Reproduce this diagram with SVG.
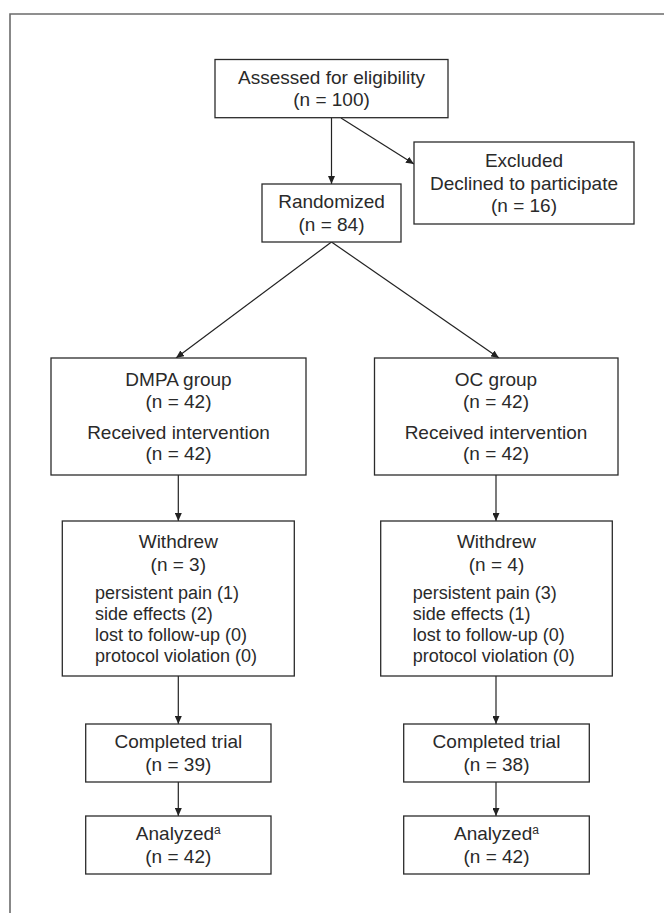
<svg xmlns="http://www.w3.org/2000/svg" width="664" height="913" viewBox="0 0 664 913">
<defs>
<style>
.frame{fill:none;stroke:#6b6b6b;stroke-width:1.6}
.box{fill:#fff;stroke:#2b2b2b;stroke-width:1.3}
.t{font-family:"Liberation Sans",Arial,sans-serif;font-size:19px;fill:#2a2a2a;text-anchor:middle}
.l{font-family:"Liberation Sans",Arial,sans-serif;font-size:18px;fill:#2a2a2a}
.sup{font-size:12px}
.c{fill:none;stroke:#222;stroke-width:1.2;marker-end:url(#ah)}
</style>
<marker id="ah" viewBox="0 0 8 7" refX="8" refY="3.5" markerWidth="8" markerHeight="7" orient="auto" markerUnits="userSpaceOnUse">
<path d="M0,0 L8,3.5 L0,7 z" fill="#222"/>
</marker>
</defs>
<rect width="664" height="913" fill="#fff"/>
<path class="frame" d="M10,913 V14 H664"/>

<g id="connectors">
<line class="c" x1="331.5" y1="117.7" x2="331.5" y2="184"/>
<line class="c" x1="341" y1="118" x2="414" y2="164"/>
<line class="c" x1="331.5" y1="242" x2="176" y2="358"/>
<line class="c" x1="331.5" y1="242" x2="499" y2="358"/>
<line class="c" x1="178.3" y1="475" x2="178.3" y2="521"/>
<line class="c" x1="496" y1="475" x2="496" y2="521"/>
<line class="c" x1="178.3" y1="676" x2="178.3" y2="724"/>
<line class="c" x1="496" y1="676" x2="496" y2="724"/>
<line class="c" x1="178.3" y1="782" x2="178.3" y2="816"/>
<line class="c" x1="496" y1="782" x2="496" y2="816"/>
</g>

<g id="assessed">
<rect class="box" x="215" y="59.5" width="233" height="58.2"/>
<text class="t" x="331.5" y="83.8">Assessed for eligibility</text>
<text class="t" x="331.5" y="106.2">(n = 100)</text>
</g>

<g id="excluded">
<rect class="box" x="414" y="142" width="220" height="82"/>
<text class="t" x="524" y="167.3">Excluded</text>
<text class="t" x="524" y="190.3">Declined to participate</text>
<text class="t" x="524" y="212">(n = 16)</text>
</g>

<g id="randomized">
<rect class="box" x="262" y="184" width="139" height="58"/>
<text class="t" x="331.5" y="208.3">Randomized</text>
<text class="t" x="331.5" y="230.7">(n = 84)</text>
</g>

<g id="dmpa">
<rect class="box" x="51" y="358" width="255" height="117"/>
<text class="t" x="178.5" y="385.5">DMPA group</text>
<text class="t" x="178.5" y="407.5">(n = 42)</text>
<text class="t" x="178.5" y="438.5">Received intervention</text>
<text class="t" x="178.5" y="460">(n = 42)</text>
</g>

<g id="oc">
<rect class="box" x="374.5" y="358" width="243.5" height="117"/>
<text class="t" x="496" y="385.5">OC group</text>
<text class="t" x="496" y="407.5">(n = 42)</text>
<text class="t" x="496" y="438.5">Received intervention</text>
<text class="t" x="496" y="460">(n = 42)</text>
</g>

<g id="withdrew-dmpa">
<rect class="box" x="62.3" y="521" width="232" height="155"/>
<text class="t" x="178.3" y="548">Withdrew</text>
<text class="t" x="178.3" y="570.5">(n = 3)</text>
<text class="l" x="95" y="599">persistent pain (1)</text>
<text class="l" x="95" y="620">side effects (2)</text>
<text class="l" x="95" y="641">lost to follow-up (0)</text>
<text class="l" x="95" y="662">protocol violation (0)</text>
</g>

<g id="withdrew-oc">
<rect class="box" x="380.7" y="521" width="231.6" height="155"/>
<text class="t" x="496.5" y="548">Withdrew</text>
<text class="t" x="496.5" y="570.5">(n = 4)</text>
<text class="l" x="412.7" y="599">persistent pain (3)</text>
<text class="l" x="412.7" y="620">side effects (1)</text>
<text class="l" x="412.7" y="641">lost to follow-up (0)</text>
<text class="l" x="412.7" y="662">protocol violation (0)</text>
</g>

<g id="completed-dmpa">
<rect class="box" x="85.7" y="724" width="185.3" height="58"/>
<text class="t" x="178.3" y="748.3">Completed trial</text>
<text class="t" x="178.3" y="770.7">(n = 39)</text>
</g>

<g id="completed-oc">
<rect class="box" x="403.7" y="724" width="185.6" height="58"/>
<text class="t" x="496.5" y="748.3">Completed trial</text>
<text class="t" x="496.5" y="770.7">(n = 38)</text>
</g>

<g id="analyzed-dmpa">
<rect class="box" x="85.7" y="816" width="185.3" height="58"/>
<text class="t" x="178.3" y="840.3">Analyzed<tspan class="sup" dy="-6">a</tspan></text>
<text class="t" x="178.3" y="862.7">(n = 42)</text>
</g>

<g id="analyzed-oc">
<rect class="box" x="403.7" y="816" width="185.6" height="58"/>
<text class="t" x="496.5" y="840.3">Analyzed<tspan class="sup" dy="-6">a</tspan></text>
<text class="t" x="496.5" y="862.7">(n = 42)</text>
</g>
</svg>
